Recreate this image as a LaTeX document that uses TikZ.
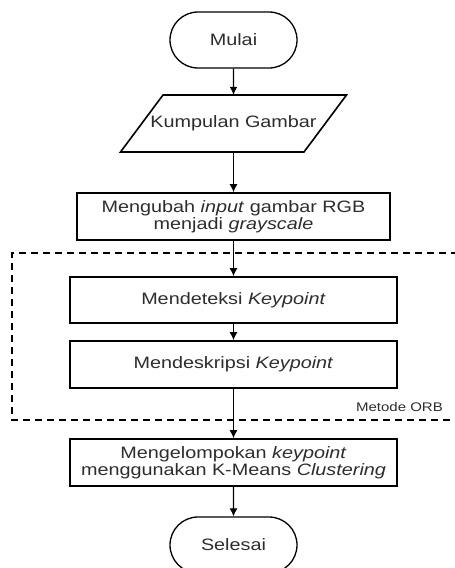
\documentclass[tikz,border=0pt]{standalone}
\usepackage{fontspec}
\setmainfont{Liberation Sans}[FakeStretch=1.2]
\usetikzlibrary{shapes.misc,arrows.meta,calc}
\definecolor{txt}{RGB}{45,45,45}
\begin{document}
\begin{tikzpicture}[x=1pt,y=-1pt,
  base/.style={text=txt,font=\fontsize{16.5}{17.5}\selectfont,align=center,inner sep=0pt},
  terminal/.style={base,draw,rounded rectangle,line width=1.3pt,minimum width=127pt,minimum height=56pt},
  process/.style={base,draw,rectangle,line width=1.6pt,minimum height=47pt},
  flow/.style={line width=1.2pt,-{Latex[length=8pt,width=8pt]}},
  region/.style={line width=1.5pt,dash pattern=on 7pt off 5pt}]
\useasboundingbox (0,0) rectangle (455,568);
\fill[white] (0,0) rectangle (455,568);

% flow steps
\node[terminal] (start) at (233.5,40) {Mulai};
\node[base,minimum width=141pt,minimum height=57pt] (input) at (233.5,123.5) {Kumpulan Gambar};
\draw[line width=1.6pt]
  ($(input.center)+(-70.5,-28.5)$) -- ($(input.center)+(113,-28.5)$)
  -- ($(input.center)+(70.5,28.5)$) -- ($(input.center)+(-113,28.5)$) -- cycle;
\node[process,minimum width=313pt] (gray) at (233.5,216.5) {Mengubah \textit{input} gambar RGB\\menjadi \textit{grayscale}};
\node[process,minimum width=327pt,minimum height=46pt] (detect) at (233.5,300) {Mendeteksi \textit{Keypoint}};
\node[process,minimum width=327pt] (describe) at (233.5,364.5) {Mendeskripsi \textit{Keypoint}};
\node[process,minimum width=327pt] (cluster) at (233.5,462.5) {Mengelompokan \textit{keypoint}\\menggunakan K-Means \textit{Clustering}};
\node[terminal] (stop) at (233.5,545) {Selesai};

% ORB region
\coordinate (orbTR) at (470,253);
\coordinate (orbBL) at (12,420);
\draw[region] (orbTR) -| (orbBL) -- (orbBL -| orbTR);
\node[base,font=\fontsize{12.5}{14}\selectfont,anchor=east] (orb) at (443,407) {Metode ORB};

% connectors
\draw[flow] (start) -- (input);
\draw[flow] (input) -- (gray);
\draw[flow] (gray) -- (detect);
\draw[flow] (detect) -- (describe);
\draw[flow] (describe) -- (cluster);
\draw[flow] (cluster) -- (stop);
\end{tikzpicture}
\end{document}
